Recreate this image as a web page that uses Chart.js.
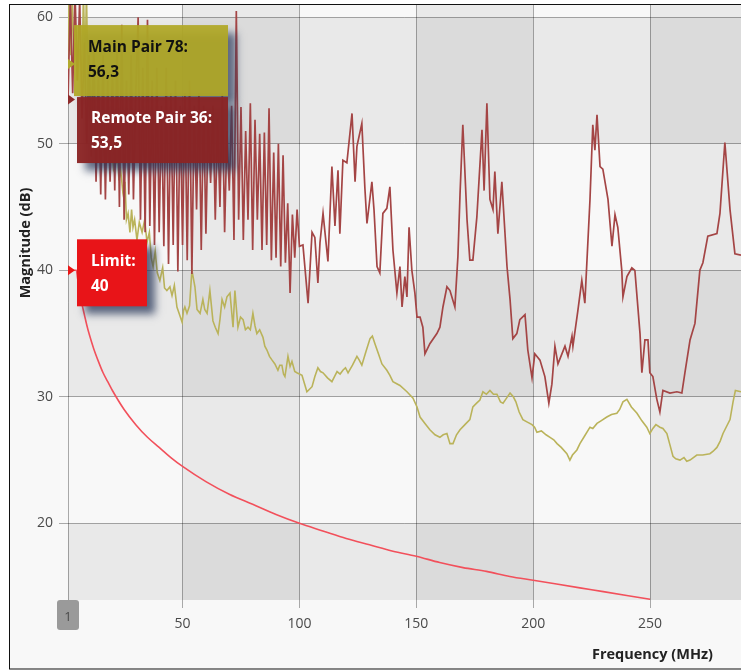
<!DOCTYPE html>
<html>
<head>
<meta charset="utf-8">
<script src="https://cdn.jsdelivr.net/npm/chart.js@4/dist/chart.umd.min.js"></script>
<style>
  html, body { margin: 0; padding: 0; background: #ffffff; }
  #wrap { width: 741px; height: 670px; }
</style>
</head>
<body>
<div id="wrap"><canvas id="c" width="741" height="670"></canvas></div>
<script>
// ---- Series data (frequency in MHz, magnitude in dB) ----
const limitFreq = [1, 2, 3, 4, 4.6, 5, 6, 7, 8, 9, 10, 12, 14, 16, 18, 20, 25, 30, 35, 40, 45, 50, 60, 70, 80, 90, 100,
  110, 120, 130, 140, 150, 160, 170, 180, 190, 200, 210, 220, 230, 240, 250];
const limitDb = [40, 40, 40, 40, 40, 39.5, 38.3, 37.3, 36.5, 35.7, 35.0, 33.8, 32.8, 31.9, 31.2, 30.5, 29.0, 27.8, 26.8, 26.0, 25.2, 24.5, 23.3, 22.3, 21.5, 20.7, 20.0,
  19.4, 18.8, 18.3, 17.8, 17.4, 16.9, 16.5, 16.2, 15.8, 15.5, 15.2, 14.9, 14.6, 14.3, 14.0];

const remoteFreq = [1, 2, 3, 4, 5, 6, 7, 8, 9, 10, 11, 12, 13, 14, 15, 16, 17, 18, 19, 20,
  21, 22, 23, 24, 25, 26, 27, 28, 29, 30, 31, 32, 33, 34, 35, 36, 37, 38, 39, 40,
  41, 42, 43, 44, 45, 46, 47, 48, 49, 50, 51, 52, 53, 54, 55, 56, 57, 58, 59, 60,
  61, 62, 63, 64, 65, 66, 67, 68, 69, 70, 71, 72, 73, 74, 75, 76, 77, 78, 79, 80,
  81, 82, 83, 84, 85, 86, 87, 88, 89, 90, 91, 92, 93, 94, 95, 96, 97, 98, 99, 100,
  101.5, 103.7, 105.4, 106.6, 107.9, 108.8, 110.1, 112.2, 113.9, 115.2, 116.5, 117.3, 118.6, 120.3, 122.5, 123.8, 124.6, 126.7, 128.0, 128.9,
  131.0, 131.9, 133.2, 134.4, 135.7, 137.4, 138.7, 140.0, 141.7, 143.0, 143.9, 145.1, 146.0, 146.9, 148.1, 149.4, 150.3, 151.6, 152.8, 153.7,
  155.8, 158.8, 160.1, 161.4, 163.1, 164.4, 166.5, 167.8, 168.7, 169.9, 171.7, 172.9, 174.2, 175.9, 178.1, 179.0, 180.2, 181.5, 182.8, 183.6,
  184.9, 186.6, 188.8, 190.1, 191.3, 193.0, 194.3, 196.5, 197.7, 199.5, 200.7, 202.9, 205.0, 206.7, 208.0, 209.3, 210.6, 213.6, 214.9, 216.6,
  217.0, 219.1, 220.8, 222.1, 224.3, 225.5, 226.4, 227.3, 228.6, 229.8, 232.0, 233.7, 235.0, 236.2, 237.9, 238.4, 240.1, 242.2, 243.5, 245.7,
  246.5, 247.8, 249.1, 249.9, 251.2, 252.9, 254.2, 255.5, 258.5, 261.5, 263.6, 264.9, 267.1, 269.2, 271.3, 272.6, 274.7, 278.6, 279.9, 282.0,
  284.2, 286.3, 288.9];
const remoteDb = [53.5, 61.5, 54, 62, 55, 61.5, 52, 58, 50, 57, 49, 58, 47, 56, 46, 57, 45.6, 55, 47, 56,
  46.3, 58, 45, 59.4, 44, 55, 46, 57, 45.6, 54, 60, 44, 56, 43, 59.8, 43.5, 55, 42, 56, 43,
  53, 41.9, 56, 40.5, 54, 42, 55, 39.9, 53, 42, 54, 40.8, 55, 39.7, 53, 44.8, 54, 41.6, 53, 42.9,
  52, 46.9, 53, 44, 52, 45, 54, 43, 51, 46.3, 53, 42.4, 60.5, 44, 52.9, 42.4, 51, 44, 53.2, 41.6,
  51.9, 44, 50.8, 41.6, 50.9, 42, 52.8, 40.8, 49.3, 41, 50, 40.3, 49.1, 40.6, 45.3, 38.2, 44.4, 41, 44.8, 41.9,
  42.0, 37.4, 43.0, 42.6, 39.0, 42.2, 44.5, 40.7, 48.2, 43.5, 47.9, 42.9, 48.7, 48.5, 52.4, 47.0, 49.8, 51.6, 46.5, 43.7,
  47.0, 44.8, 40.3, 39.8, 44.5, 44.9, 46.6, 41.6, 38.2, 40.3, 37.1, 39.5, 37.9, 43.4, 40.0, 38.2, 36.3, 36.3, 35.5, 33.4,
  34.2, 35.0, 35.5, 37.1, 38.7, 38.4, 37.1, 41.1, 46.0, 51.5, 44.0, 40.8, 40.8, 44.2, 51.1, 46.3, 53.2, 45.6, 44.8, 47.8,
  42.9, 47.0, 40.3, 37.7, 34.6, 35.0, 36.1, 36.5, 33.7, 31.5, 33.4, 32.9, 31.6, 29.5, 31.0, 34.0, 32.6, 34.0, 33.2, 34.8,
  34.0, 36.8, 39.2, 37.4, 45.6, 51.5, 49.5, 52.3, 48.2, 48.0, 45.6, 41.9, 44.4, 43.4, 40.0, 37.9, 39.5, 40.2, 40.0, 35.0,
  31.9, 34.5, 34.5, 31.9, 31.6, 29.8, 28.8, 30.5, 30.3, 30.4, 30.3, 31.9, 34.5, 35.8, 40.0, 40.6, 42.7, 42.9, 44.5, 50.1,
  44.8, 41.3, 41.2];

const mainFreq = [1, 1.5, 2.2, 2.8, 3.5, 4.2, 5, 6, 7, 7.6, 8.3, 8.9, 9.6, 10.5, 11.5, 12.5, 13.5, 14.5, 15.5, 16.5,
  17.5, 18.5, 19.5, 20.5, 21.5, 22.2, 22.8, 23.5, 24.5, 25.0, 25.4, 26.0, 26.7, 27.5, 28.2, 28.8, 29.5, 30.5, 31.5, 32.7,
  33.8, 34.8, 35.8, 36.6, 37.4, 38.3, 39.2, 40.3, 41.5, 42.3, 43.3, 44.6, 45.5, 46.5, 47.6, 48.7, 49.8, 50.4, 51.0, 51.9,
  53.0, 54.0, 55.3, 56.2, 57.5, 58.7, 59.5, 60.5, 61.7, 63.0, 64.0, 65.2, 66.0, 66.9, 68.0, 69.0, 70.3, 71.6, 72.4, 73.7,
  74.8, 75.9, 76.9, 78.0, 79.0, 80.1, 81.0, 81.8, 83.0, 84.4, 85.2, 86.1, 87.2, 88.3, 89.5, 90.8, 91.6, 92.5, 93.2, 93.8,
  95.1, 96.0, 96.8, 98.0, 98.9, 100.0, 101.1, 103.2, 104.3, 105.4, 106.6, 107.9, 109.0, 110.1, 112.0, 113.9, 115.0, 116.1, 117.4, 118.6,
  119.7, 120.8, 122.7, 124.6, 125.6, 126.7, 128.5, 130.2, 131.2, 132.3, 133.8, 135.3, 137.4, 138.7, 140.0, 143.0, 146.0, 148.6, 150.3, 151.6,
  153.7, 155.8, 158.0, 160.1, 161.5, 163.1, 164.4, 165.7, 167.2, 168.7, 170.8, 172.9, 174.2, 175.8, 177.2, 178.5, 180.0, 181.5, 183.0, 184.5,
  186.0, 187.1, 188.6, 190.1, 191.5, 192.6, 194.0, 195.6, 197.5, 199.5, 200.6, 201.6, 203.5, 205.5, 207.2, 208.8, 210.2, 212.0, 214.4, 215.7,
  216.8, 218.7, 220.0, 222.0, 224.3, 225.5, 227.3, 229.0, 231.5, 233.5, 235.8, 237.0, 238.4, 240.1, 242.0, 244.4, 246.5, 248.6, 249.9, 251.2,
  252.5, 254.2, 255.5, 257.2, 258.5, 259.8, 261.0, 262.8, 264.5, 265.7, 267.1, 270.0, 272.5, 275.6, 277.0, 278.6, 280.0, 281.2, 284.2, 285.5,
  286.5, 288.9];
const mainDb = [56.3, 62, 57, 61.5, 56.5, 58, 55, 57.5, 55.5, 62, 56, 62, 54, 52, 54.5, 50.5, 52.5, 49.5, 51.5, 49,
  51, 48.5, 50, 48, 48.5, 49.5, 47.1, 48, 46.1, 45.6, 47, 44.0, 44.5, 43.0, 44.8, 43.4, 44, 42.4, 43.8, 43.0,
  44, 42.2, 43, 41, 40.3, 41.5, 39.8, 39.2, 40.2, 38.6, 38.4, 38.7, 38.0, 38.8, 37.1, 36.5, 35.9, 36.8, 37.1, 36.6,
  37.2, 40.0, 38.7, 36.9, 36.6, 37.7, 36.9, 36.6, 38.4, 36.0, 35.5, 35.0, 36.1, 37.7, 37.1, 37.9, 38.2, 35.5, 38.4, 35.5,
  36.3, 36.1, 35.3, 35.5, 35.3, 36.6, 35.6, 35.0, 35.3, 34.7, 34.0, 33.7, 33.2, 32.9, 32.6, 32.1, 32.5, 32.5, 31.8, 31.6,
  33.2, 32.4, 32.8, 32.0, 31.9, 31.8, 31.7, 30.4, 30.6, 30.8, 31.6, 32.3, 32.0, 31.9, 31.5, 31.2, 31.6, 32.0, 31.8, 32.1,
  32.3, 31.9, 32.5, 33.2, 32.9, 32.5, 33.6, 34.6, 34.8, 34.2, 33.4, 32.6, 32.1, 31.7, 31.2, 30.9, 30.4, 29.9, 29.2, 28.4,
  27.9, 27.4, 27.0, 26.8, 27.0, 27.1, 26.3, 26.3, 27.0, 27.4, 27.8, 28.2, 29.2, 29.5, 29.75, 30.4, 30.2, 30.5, 30.2, 30.2,
  29.6, 29.5, 29.9, 30.3, 30.0, 29.6, 28.8, 28.2, 28.0, 27.8, 27.6, 27.2, 27.3, 27.0, 26.8, 26.6, 26.3, 26.0, 25.5, 25.0,
  25.4, 25.8, 26.3, 26.9, 27.6, 27.5, 27.9, 28.1, 28.4, 28.6, 28.7, 29.0, 29.6, 29.8, 29.2, 28.7, 28.1, 27.6, 27.1, 27.5,
  27.8, 27.6, 27.5, 27.1, 26.2, 25.3, 25.1, 25.0, 25.2, 24.9, 25.0, 25.4, 25.4, 25.5, 25.7, 26.0, 26.5, 27.1, 28.2, 29.6,
  30.5, 30.4];

// Read-out at the cursor position (1 MHz)
const cursorFreq = 1;
const cursorLabels = ['Main Pair 78:', 'Remote Pair 36:', 'Limit:'];
const cursorValues = [56.3, 53.5, 40];

// Axis ticks and titles
const xTicks = [1, 50, 100, 150, 200, 250];
const yTicks = [20, 30, 40, 50, 60];
const xTitle = 'Frequency (MHz)';
const yTitle = 'Magnitude (dB)';

const toPoints = (xs, ys) => xs.map((x, i) => ({ x: x, y: ys[i] }));
const fmt = v => v.toFixed(1).replace('.', ',');

const FONT = "'Open Sans', 'Noto Sans', sans-serif";

// Page frame and checkered plot background
const backdrop = {
  id: 'backdrop',
  beforeDraw(chart) {
    const { ctx, width, height, chartArea: a } = chart;
    const xs = chart.scales.x, ys = chart.scales.y;
    ctx.save();
    ctx.fillStyle = '#ffffff';
    ctx.fillRect(0, 0, width, height);
    ctx.fillStyle = '#f8f8f8';
    ctx.fillRect(9, 4, width - 9, height - 5);
    ctx.strokeStyle = '#111';
    ctx.lineWidth = 1;
    ctx.strokeRect(9.5, 4.5, width + 5, height - 5.5);

    ctx.beginPath();
    ctx.rect(a.left, a.top, a.right - a.left, a.bottom - a.top);
    ctx.clip();
    ctx.fillStyle = 'rgba(0,0,0,0.06)';
    const colEdges = [xs.min, 50, 100, 150, 200, 250, xs.max];
    for (let i = 1; i < colEdges.length - 1; i += 2) {
      const x0 = xs.getPixelForValue(colEdges[i]), x1 = xs.getPixelForValue(colEdges[i + 1]);
      ctx.fillRect(x0, a.top, x1 - x0, a.bottom - a.top);
    }
    const rowEdges = [ys.min, 20, 30, 40, 50, 60, ys.max];
    for (let i = 0; i < rowEdges.length - 1; i += 2) {
      const y0 = ys.getPixelForValue(rowEdges[i + 1]), y1 = ys.getPixelForValue(rowEdges[i]);
      ctx.fillRect(a.left, y0, a.right - a.left, y1 - y0);
    }
    ctx.restore();
  }
};

// Cursor read-out boxes, markers and axis titles
const overlay = {
  id: 'overlay',
  afterDraw(chart) {
    const { ctx } = chart;
    const xs = chart.scales.x, ys = chart.scales.y;
    const cx = xs.getPixelForValue(cursorFreq);
    const yMain = ys.getPixelForValue(cursorValues[0]);
    const yLimit = ys.getPixelForValue(cursorValues[2]);
    const yRemote = ys.getPixelForValue(cursorValues[1]);

    const markerColors = ['#b3ab2f', '#8e2b2b', '#ea1515'];
    [yMain, yRemote, yLimit].forEach((py, i) => {
      ctx.save();
      ctx.fillStyle = markerColors[i];
      ctx.beginPath();
      ctx.moveTo(cx, py - 5);
      ctx.lineTo(cx + 7, py);
      ctx.lineTo(cx, py + 5);
      ctx.closePath();
      ctx.fill();
      ctx.restore();
    });

    const boxes = [
      { x: cx + 6, y: yMain - 39, w: 154, h: 71, fill: 'rgba(176,168,38,0.93)', text: '#111', i: 0 },
      { x: cx + 9, y: yMain + 33, w: 151, h: 66, fill: 'rgba(138,36,36,0.96)', text: '#ffffff', i: 1 },
      { x: cx + 9, y: yLimit - 31, w: 70, h: 67, fill: '#e81418', text: '#ffffff', i: 2 }
    ];
    boxes.forEach(b => {
      ctx.save();
      ctx.shadowColor = 'rgba(40,55,90,0.75)';
      ctx.shadowBlur = 8;
      ctx.shadowOffsetX = 8;
      ctx.shadowOffsetY = 8;
      ctx.fillStyle = b.fill;
      ctx.fillRect(b.x, b.y, b.w, b.h);
      ctx.restore();
    });
    boxes.forEach(b => {
      ctx.save();
      ctx.fillStyle = b.text;
      ctx.font = 'bold 15.5px ' + FONT;
      ctx.textBaseline = 'middle';
      ctx.textAlign = 'left';
      const top = b.i === 1 ? b.y + 21 : b.y + 22;
      ctx.fillText(cursorLabels[b.i], b.x + 14, top);
      ctx.fillText(b.i === 2 ? String(cursorValues[b.i]) : fmt(cursorValues[b.i]), b.x + 14, top + 25);
      ctx.restore();
    });

    // cursor position tag under the axis
    ctx.save();
    ctx.fillStyle = '#9a9a9a';
    ctx.beginPath();
    ctx.roundRect(cx - 11, chart.chartArea.bottom, 22, 30, 3);
    ctx.fill();
    ctx.fillStyle = '#4a4a4a';
    ctx.font = '13px ' + FONT;
    ctx.textAlign = 'center';
    ctx.textBaseline = 'middle';
    ctx.fillText(String(cursorFreq), cx, chart.chartArea.bottom + 17);
    ctx.restore();

    // axis titles
    ctx.save();
    ctx.fillStyle = '#222';
    ctx.font = 'bold 14.5px ' + FONT;
    ctx.textAlign = 'right';
    ctx.textBaseline = 'middle';
    ctx.fillText(xTitle, 713, 655);
    ctx.translate(26, 243);
    ctx.rotate(-Math.PI / 2);
    ctx.textAlign = 'center';
    ctx.fillText(yTitle, 0, 0);
    ctx.restore();
  }
};

const gridColor = 'rgba(0,0,0,0.32)';
const tickFont = { family: FONT, size: 14 };

new Chart(document.getElementById('c'), {
  type: 'line',
  data: {
    datasets: [
      { label: 'Limit', data: toPoints(limitFreq, limitDb), borderColor: '#f2505b', borderWidth: 1.6,
        pointRadius: 0, tension: 0, cubicInterpolationMode: 'monotone' },
      { label: 'Remote Pair 36', data: toPoints(remoteFreq, remoteDb), borderColor: '#a44545', borderWidth: 1.7,
        pointRadius: 0, tension: 0 },
      { label: 'Main Pair 78', data: toPoints(mainFreq, mainDb), borderColor: '#bab35a', borderWidth: 1.6,
        pointRadius: 0, tension: 0 }
    ]
  },
  options: {
    responsive: false,
    animation: false,
    devicePixelRatio: 1,
    layout: { padding: { top: 5, right: 0, bottom: 0, left: 0 } },
    plugins: { legend: { display: false }, tooltip: { enabled: false } },
    scales: {
      x: {
        type: 'linear', min: 1, max: 288.9,
        afterFit(s) { s.height = 70; s.paddingLeft = 0; s.paddingRight = 0; },
        afterBuildTicks(s) { s.ticks = xTicks.map(v => ({ value: v })); },
        ticks: { font: tickFont, color: '#4a4a4a', padding: 8, maxRotation: 0, autoSkip: false,
          callback: v => (v === cursorFreq ? '' : String(v)) },
        grid: { color: gridColor, lineWidth: 1, tickLength: 8 },
        border: { display: false }
      },
      y: {
        type: 'linear', min: 13.94, max: 60.97,
        afterFit(s) { s.width = 68; s.paddingTop = 0; s.paddingBottom = 0; },
        afterBuildTicks(s) { s.ticks = yTicks.map(v => ({ value: v })); },
        ticks: { font: tickFont, color: '#4a4a4a', padding: 6, callback: v => String(v) },
        grid: { color: gridColor, lineWidth: 1, tickLength: 9 },
        border: { display: false }
      }
    }
  },
  plugins: [backdrop, overlay]
});
</script>
</body>
</html>
